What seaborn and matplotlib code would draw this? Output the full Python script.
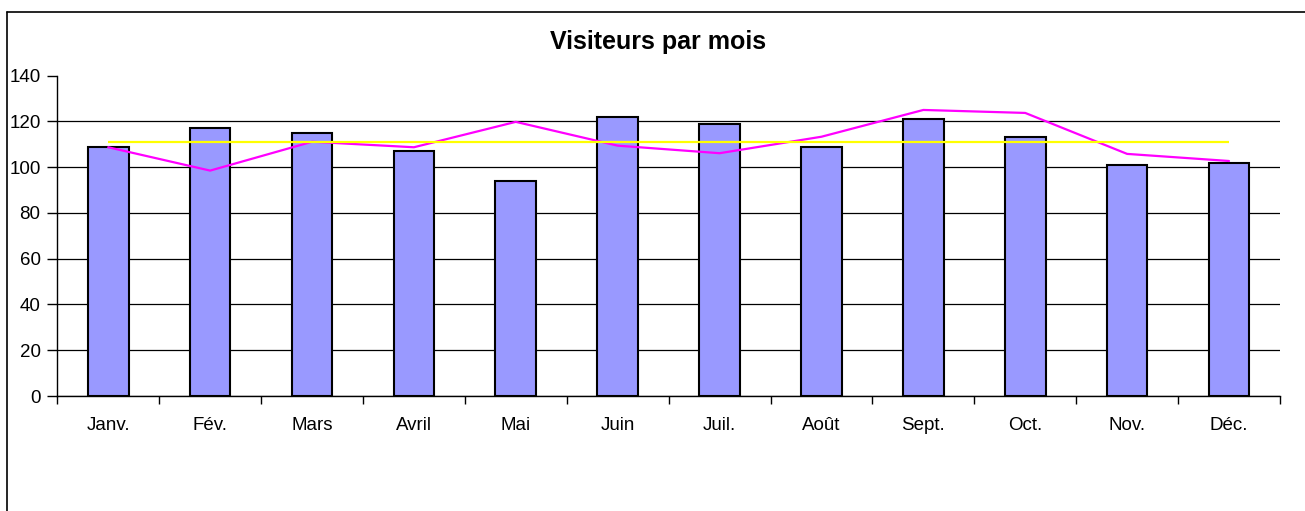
import numpy as np
import seaborn as sns
import matplotlib.pyplot as plt
from matplotlib.lines import Line2D

# data
months = ['Janv.', 'Fév.', 'Mars', 'Avril', 'Mai', 'Juin',
          'Juil.', 'Août', 'Sept.', 'Oct.', 'Nov.', 'Déc.']
visitors = [109, 117, 115, 107, 94, 122, 119, 109, 121, 113, 101, 102]
trend = [108.7, 98.5, 111.1, 108.7, 119.8, 109.4, 106.1, 113.3, 125.0, 123.7, 105.8, 102.7]
moyenne = 111

sns.set_style('white')
plt.rcParams['font.family'] = ['Liberation Sans', 'DejaVu Sans']
plt.rcParams['text.color'] = 'black'
plt.rcParams['xtick.color'] = 'black'
plt.rcParams['ytick.color'] = 'black'

fig = plt.figure(figsize=(13.05, 5.11), dpi=100)
ax = fig.add_axes([0.0439, 0.225, 0.9369, 0.627])

sns.barplot(x=months, y=visitors, color='#9999FF', saturation=1, width=0.4,
            edgecolor='black', linewidth=1.5, ax=ax, zorder=3)

pos = np.arange(len(months))
ax.plot(pos, trend, color='#FF00FF', lw=1.6, zorder=4)
ax.hlines(moyenne, pos[0], pos[-1], color='#FFFF00', lw=1.6, zorder=5)

ax.set_xlim(-0.5, len(months) - 0.5)
ax.set_ylim(0, 140)
ax.set_yticks(range(0, 141, 20))
ax.yaxis.grid(True, color='black', lw=0.9)
ax.get_ygridlines()[-1].set_visible(False)
ax.set_axisbelow(True)

# ticks at category boundaries, labels at centers
ax.set_xticks(np.arange(len(months) + 1) - 0.5)
ax.set_xticklabels([])
ax.set_xticks(pos, minor=True)
ax.set_xticklabels(months, minor=True)
ax.tick_params(axis='x', which='major', length=6, width=1, color='black', direction='out')
ax.tick_params(axis='x', which='minor', length=0, pad=15, labelsize=13.5, labelcolor='black')
ax.tick_params(axis='y', length=7, width=1, color='black', direction='out', pad=5,
               labelsize=13.5, labelcolor='black')
ax.tick_params(bottom=True, left=True)

for side in ['top', 'right']:
    ax.spines[side].set_visible(False)
for side in ['left', 'bottom']:
    ax.spines[side].set_color('black')
    ax.spines[side].set_linewidth(1)

ax.set_xlabel('')
ax.set_ylabel('')
fig.text(0.504, 0.918, 'Visiteurs par mois', ha='center', va='center',
         fontsize=18, fontweight='bold', color='black')

# chart frame (top and left edges visible)
fig.add_artist(Line2D([7 / 1305, 1], [1 - 12 / 511, 1 - 12 / 511], color='black', lw=1.2))
fig.add_artist(Line2D([7 / 1305, 7 / 1305], [0, 1 - 12 / 511], color='black', lw=1.2))

fig.savefig('out.png', dpi=100)
